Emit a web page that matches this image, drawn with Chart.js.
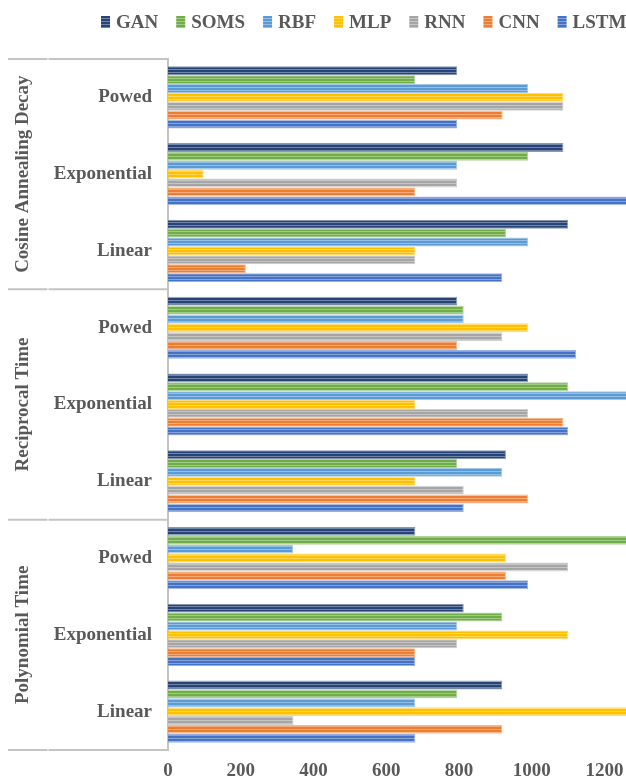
<!DOCTYPE html>
<html>
<head>
<meta charset="utf-8">
<script src="https://cdn.jsdelivr.net/npm/chart.js@4"></script>
<style>
  html, body { margin: 0; padding: 0; background: #ffffff; overflow: hidden; }
  canvas { display: block; }
</style>
</head>
<body>
<canvas id="chart" width="626" height="784"></canvas>
<script>
// Decay schedule groups (outer level) and schedule shapes (inner level), top to bottom
const groups = ['Cosine Annealing Decay', 'Reciprocal Time', 'Polynomial Time'];
const schedules = ['Powed', 'Exponential', 'Linear'];
const categories = groups.flatMap(() => schedules);

// Tick values of the value axis
const xTickValues = [0, 200, 400, 600, 800, 1000, 1200];

// Series names and values, one entry per row (top to bottom)
const seriesNames = ['GAN', 'SOMS', 'RBF', 'MLP', 'RNN', 'CNN', 'LSTM'];
const ganValues  = [795, 1087, 1100, 795, 990, 929, 680, 813, 919];
const somsValues = [680, 990, 929, 813, 1100, 795, 1300, 919, 795];
const rbfValues  = [990, 795, 990, 813, 1300, 919, 344, 795, 680];
const mlpValues  = [1087, 98, 680, 990, 680, 680, 929, 1100, 1300];
const rnnValues  = [1087, 795, 680, 919, 990, 813, 1100, 795, 345];
const cnnValues  = [920, 680, 214, 795, 1087, 990, 929, 680, 919];
const lstmValues = [795, 1300, 919, 1122, 1100, 813, 990, 680, 680];
const seriesValues = [ganValues, somsValues, rbfValues, mlpValues, rnnValues, cnnValues, lstmValues];
const seriesColors = ['#264478', '#70AD47', '#5B9BD5', '#FFC000', '#A5A5A5', '#ED7D31', '#4472C4'];

const TEXT = '#595959';
const FONT = '"Liberation Serif", "Times New Roman", serif';
const LINE = '#c4c4c4';

const canvas = document.getElementById('chart');
const ctx = canvas.getContext('2d');

function tint(hex, amt) {
  const n = parseInt(hex.slice(1), 16);
  const r = (n >> 16) & 255, g = (n >> 8) & 255, b = n & 255;
  const m = v => Math.round(v + (255 - v) * amt);
  return `rgb(${m(r)},${m(g)},${m(b)})`;
}

// Horizontal pin-stripe fill for bars and legend swatches
function stripes(hex) {
  const c = document.createElement('canvas');
  c.width = 4; c.height = 3;
  const g = c.getContext('2d');
  g.fillStyle = hex; g.fillRect(0, 0, 4, 3);
  g.fillStyle = tint(hex, 0.35); g.fillRect(0, 0, 4, 1);
  return ctx.createPattern(c, 'repeat');
}

const datasets = seriesNames.map((name, i) => ({
  label: name,
  data: seriesValues[i],
  backgroundColor: stripes(seriesColors[i]),
  borderColor: tint(seriesColors[i], 0.45),
  borderWidth: 1,
  borderSkipped: 'start'
}));

// Legend row across the top
const topLegend = {
  id: 'topLegend',
  afterDraw(chart) {
    const c = chart.ctx;
    c.save();
    c.font = `bold 19px ${FONT}`;
    c.textBaseline = 'middle';
    c.textAlign = 'left';
    let x = 101;
    const y = 22;
    chart.data.datasets.forEach(ds => {
      c.fillStyle = ds.backgroundColor;
      c.fillRect(x, y - 6, 9, 12);
      c.fillStyle = TEXT;
      c.fillText(ds.label, x + 15, y + 1);
      x += 15 + c.measureText(ds.label).width + 18;
    });
    c.restore();
  }
};

// Outer category level: divider lines and rotated group names
const groupAxis = {
  id: 'groupAxis',
  afterDraw(chart) {
    const c = chart.ctx;
    const ys = chart.scales.y;
    const left = chart.chartArea.left;
    const n = schedules.length;
    const bounds = [ys.top];
    for (let g = 1; g < groups.length; g++) {
      bounds.push((ys.getPixelForValue(g * n - 1) + ys.getPixelForValue(g * n)) / 2);
    }
    bounds.push(ys.bottom);
    c.save();
    c.strokeStyle = LINE;
    c.lineWidth = 2;
    bounds.forEach(y => {
      c.beginPath();
      c.moveTo(8, y); c.lineTo(47.5, y);
      c.moveTo(48.5, y); c.lineTo(left, y);
      c.stroke();
    });
    c.fillStyle = TEXT;
    c.font = `bold 19px ${FONT}`;
    c.textAlign = 'center';
    c.textBaseline = 'alphabetic';
    groups.forEach((name, g) => {
      const cy = (bounds[g] + bounds[g + 1]) / 2;
      c.save();
      c.translate(28, cy);
      c.rotate(-Math.PI / 2);
      c.fillText(name, 0, 0);
      c.restore();
    });
    c.restore();
  }
};

new Chart(ctx, {
  type: 'bar',
  data: { labels: categories, datasets },
  options: {
    indexAxis: 'y',
    responsive: false,
    animation: false,
    layout: { padding: { top: 59, left: 0, right: 0, bottom: 0 } },
    datasets: { bar: { categoryPercentage: 0.81, barPercentage: 1, clip: 0 } },
    plugins: {
      legend: { display: false },
      tooltip: { enabled: false }
    },
    scales: {
      x: {
        min: 0,
        max: 1259,
        grid: { display: false, drawTicks: false },
        border: { display: false },
        afterBuildTicks: s => { s.ticks = xTickValues.map(v => ({ value: v })); },
        afterFit: s => { s.height = 34; s.paddingLeft = 0; s.paddingRight = 0; },
        ticks: {
          padding: 10,
          color: TEXT,
          font: { family: FONT, size: 19, weight: 'bold' },
          callback: v => String(v)
        }
      },
      y: {
        grid: { display: false, drawTicks: false },
        border: { display: true, color: LINE, width: 2 },
        afterFit: s => { s.width = 168; },
        ticks: { padding: 16, color: TEXT, font: { family: FONT, size: 19, weight: 'bold' } }
      }
    }
  },
  plugins: [topLegend, groupAxis]
});
</script>
</body>
</html>
